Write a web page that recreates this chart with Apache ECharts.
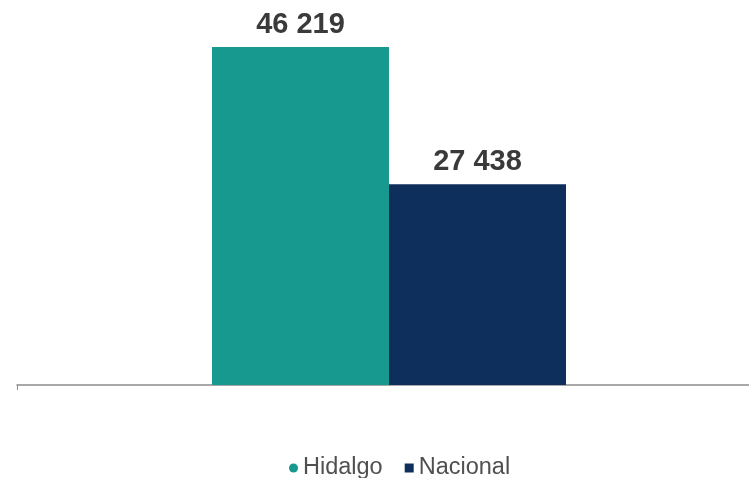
<!DOCTYPE html>
<html><head><meta charset="utf-8">
<script src="https://cdn.jsdelivr.net/npm/echarts@6/dist/echarts.min.js"></script>
<style>html,body{margin:0;padding:0;background:#fff}#c{width:749px;height:478px}</style>
</head><body><div id="c"></div>
<script>
const categories = [''];
const seriesNames = ['Hidalgo', 'Nacional'];
const hidalgoValues = [46219];
const nacionalValues = [27438];
const colors = ['#17998f', '#0e2e5c'];

const fmt = v => String(v).replace(/\B(?=(\d{3})+(?!\d))/g, ' ');
const chart = echarts.init(document.getElementById('c'), null, {renderer: 'canvas'});
const label = {show: true, position: 'top', distance: 8, color: '#3a3a3a', fontSize: 29, fontWeight: 'bold', fontFamily: 'Liberation Sans, Arial', formatter: p => fmt(p.value)};
chart.setOption({
  animation: false,
  grid: [
    {left: 29, right: 0, top: 47, bottom: 93},
    {left: 17, right: 0, top: 47, bottom: 93}
  ],
  legend: {
    top: 451, left: 284, itemWidth: 9, itemHeight: 9, itemGap: 22,
    textStyle: {color: '#505050', fontSize: 23.5, fontFamily: 'Liberation Sans, Arial'},
    data: [{name: seriesNames[0], icon: 'circle'}, {name: seriesNames[1], icon: 'rect'}]
  },
  xAxis: [
    {type: 'category', gridIndex: 0, data: categories, axisLine: {show: false}, axisTick: {show: false}, axisLabel: {show: false}},
    {type: 'category', gridIndex: 1, data: [''], axisLine: {show: true, lineStyle: {color: '#8c8c8c', width: 1.5}}, axisTick: {show: true, alignWithLabel: false, length: 5, lineStyle: {color: '#8c8c8c'}, interval: 0}, axisLabel: {show: false}}
  ],
  yAxis: [
    {type: 'value', gridIndex: 0, min: 0, max: 46219, show: false, splitLine: {show: false}},
    {type: 'value', gridIndex: 1, min: 0, max: 1, show: false, splitLine: {show: false}}
  ],
  series: [
    {name: seriesNames[0], type: 'bar', xAxisIndex: 0, yAxisIndex: 0, data: hidalgoValues, barWidth: 177, barGap: '0%', itemStyle: {color: colors[0]}, label: label},
    {name: seriesNames[1], type: 'bar', xAxisIndex: 0, yAxisIndex: 0, data: nacionalValues, barWidth: 177, barGap: '0%', itemStyle: {color: colors[1]}, label: label}
  ]
});
</script></body></html>
